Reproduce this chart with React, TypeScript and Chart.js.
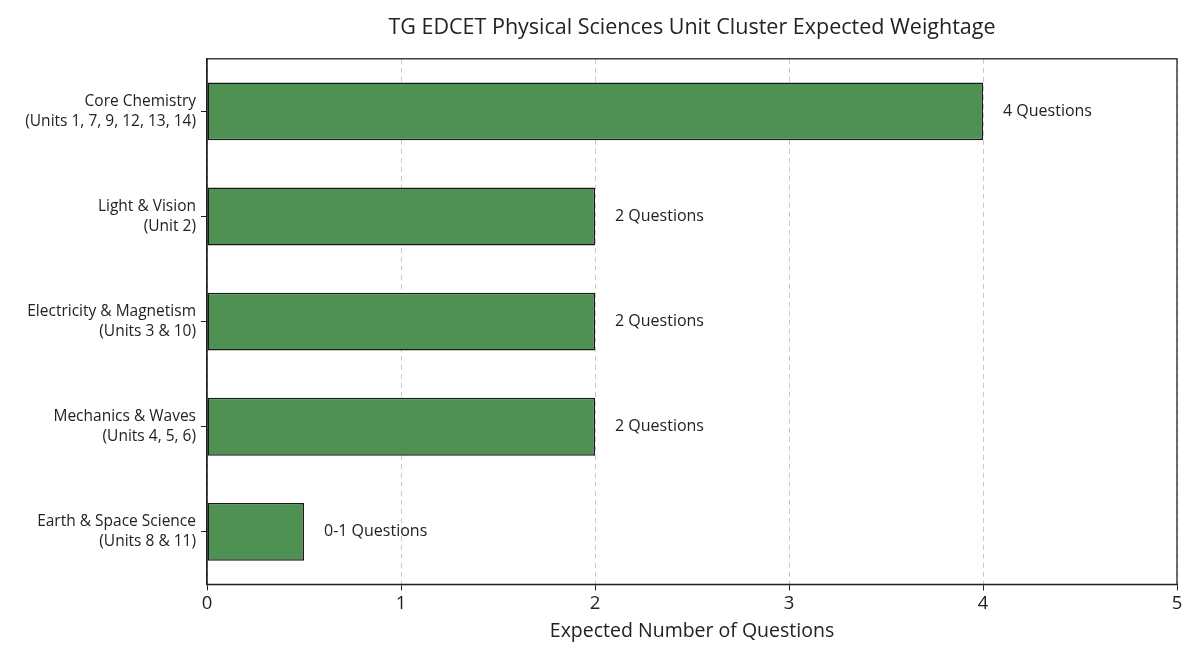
import { useEffect, useRef } from "react";
import { Chart, registerables } from "chart.js";

Chart.register(...registerables);

const CATEGORIES = [
	["Core Chemistry", "(Units 1, 7, 9, 12, 13, 14)"],
	["Light & Vision", "(Unit 2)"],
	["Electricity & Magnetism", "(Units 3 & 10)"],
	["Mechanics & Waves", "(Units 4, 5, 6)"],
	["Earth & Space Science", "(Units 8 & 11)"],
];
const QUESTIONS = [4, 2, 2, 2, 0.5];
const BAR_LABELS = ["4 Questions", "2 Questions", "2 Questions", "2 Questions", "0-1 Questions"];
const X_TICKS = [0, 1, 2, 3, 4, 5];

const FONT = "'Open Sans', sans-serif";
const INK = "#222222";

// value labels to the right of each bar + the full box frame (matplotlib spines)
const barLabelsPlugin = {
	id: "barLabels",
	afterDatasetsDraw(chart: Chart) {
		const { ctx, chartArea } = chart;
		const meta = chart.getDatasetMeta(0);
		ctx.save();
		ctx.font = `16px ${FONT}`;
		ctx.fillStyle = INK;
		ctx.textAlign = "left";
		ctx.textBaseline = "middle";
		meta.data.forEach((bar: any, i: number) => {
			ctx.fillText(BAR_LABELS[i], bar.x + 20, bar.y);
		});
		ctx.strokeStyle = INK;
		ctx.lineWidth = 1.3;
		ctx.strokeRect(chartArea.left, chartArea.top, chartArea.right - chartArea.left, chartArea.bottom - chartArea.top);
		ctx.restore();
	},
};

export default function App() {
	const canvasRef = useRef<HTMLCanvasElement | null>(null);

	useEffect(() => {
		if (!canvasRef.current) return;
		const chart = new Chart(canvasRef.current, {
			type: "bar",
			data: {
				labels: CATEGORIES,
				datasets: [
					{
						data: QUESTIONS,
						backgroundColor: "#4e9153",
						borderColor: "#1a1a1a",
						borderWidth: 1.5,
						borderSkipped: false,
						barPercentage: 0.55,
						categoryPercentage: 1,
					},
				],
			},
			options: {
				indexAxis: "y",
				animation: false,
				responsive: true,
				maintainAspectRatio: false,
				layout: { padding: { left: 0, right: 23, top: 0, bottom: 0 } },
				plugins: {
					legend: { display: false },
					tooltip: { enabled: false },
					title: {
						display: true,
						fullSize: false,
						text: "TG EDCET Physical Sciences Unit Cluster Expected Weightage",
						color: INK,
						font: { family: FONT, size: 21.5, weight: "normal" },
						padding: { top: 15, bottom: 18 },
					},
				},
				scales: {
					x: {
						type: "linear",
						min: 0,
						max: 5,
						afterBuildTicks: (scale: any) => {
							scale.ticks = X_TICKS.map((v) => ({ value: v }));
						},
						ticks: {
							color: INK,
							font: { family: FONT, size: 18.5 },
							padding: 2,
							maxRotation: 0,
						},
						grid: {
							color: "#c8c8c8",
							lineWidth: 1,
							drawTicks: true,
							tickLength: 6,
							tickColor: INK,
							tickBorderDash: [],
						},
						border: { display: true, color: INK, width: 1.3, dash: [5, 4] },
						title: {
							display: true,
							text: "Expected Number of Questions",
							color: INK,
							font: { family: FONT, size: 19.5 },
							padding: { top: 3, bottom: 17 },
						},
					},
					y: {
						type: "category",
						offset: true,
						afterFit: (scale: any) => {
							scale.width = 207;
						},
						ticks: {
							color: INK,
							font: { family: FONT, size: 15.5, lineHeight: 1.3 },
							padding: 5,
						},
						grid: {
							offset: false,
							drawOnChartArea: false,
							drawTicks: true,
							tickLength: 6,
							tickColor: INK,
						},
						border: { display: true, color: INK, width: 1.3 },
					},
				},
			},
			plugins: [barLabelsPlugin],
		} as any);
		return () => chart.destroy();
	}, []);

	return (
		<div style={{ position: "absolute", left: 0, top: 0, width: 1200, height: 660, background: "#fff" }}>
			<canvas ref={canvasRef} />
		</div>
	);
}
